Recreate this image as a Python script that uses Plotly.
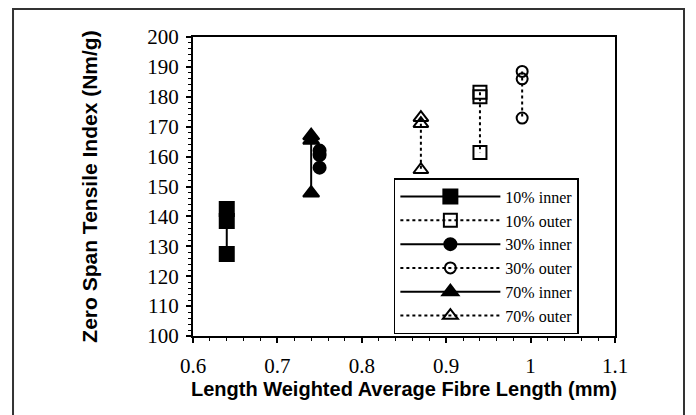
import plotly.graph_objects as go

# Data
x_10_inner = [0.64, 0.64, 0.64]
y_10_inner = [142.5, 138.5, 127.4]
x_10_outer = [0.94, 0.94, 0.94]
y_10_outer = [181.5, 180.0, 161.4]
x_30_inner = [0.75, 0.75, 0.75]
y_30_inner = [162.0, 160.5, 156.3]
x_30_outer = [0.99, 0.99, 0.99]
y_30_outer = [188.5, 186.0, 172.9]
x_70_inner = [0.74, 0.74, 0.74]
y_70_inner = [167.0, 165.5, 147.8]
x_70_outer = [0.87, 0.87, 0.87]
y_70_outer = [173.0, 171.0, 155.6]

x_ticks = [0.6, 0.7, 0.8, 0.9, 1.0, 1.1]
y_ticks = [100, 110, 120, 130, 140, 150, 160, 170, 180, 190, 200]

series = [
    ("10% inner", x_10_inner, y_10_inner, "square", "solid", 14),
    ("10% outer", x_10_outer, y_10_outer, "square-open", "dot", 13),
    ("30% inner", x_30_inner, y_30_inner, "circle", "solid", 12),
    ("30% outer", x_30_outer, y_30_outer, "circle-open", "dot", 11),
    ("70% inner", x_70_inner, y_70_inner, "triangle-up", "solid", 14),
    ("70% outer", x_70_outer, y_70_outer, "triangle-up-open", "dot", 13),
]

fig = go.Figure()
for name, xs, ys, sym, dash, size in series:
    fig.add_trace(go.Scatter(
        x=xs, y=ys, name=name, mode="lines+markers",
        line=dict(color="black", width=2, dash=dash),
        marker=dict(symbol=sym, size=size, color="black",
                    line=dict(color="black", width=2)),
    ))

serif = "'Liberation Serif', 'Times New Roman', serif"
sans = "'Liberation Sans', Arial, sans-serif"

fig.update_layout(
    width=696, height=415,
    margin=dict(l=193, r=81, t=37, b=79),
    paper_bgcolor="white", plot_bgcolor="white",
    font=dict(family=serif, size=21, color="black"),
    showlegend=True,
    legend=dict(
        x=0.476, y=0.528, xanchor="left", yanchor="top",
        bgcolor="white", bordercolor="black", borderwidth=1.5,
        font=dict(family=serif, size=16, color="black"),
        itemwidth=100, tracegroupgap=0,
    ),
)
fig.update_xaxes(
    range=[0.6, 1.1], tickmode="array", tickvals=x_ticks,
    tickfont=dict(family=serif, size=21, color="black"),
    showgrid=False, zeroline=False,
    showline=True, linecolor="black", linewidth=2, mirror=True,
    ticks="outside", ticklen=5, tickwidth=1.5, tickcolor="black",
    minor=dict(dtick=0.02, ticks="outside", ticklen=3, tickwidth=1, tickcolor="black"),
    ticklabelstandoff=5,
    title=dict(text="<b>Length Weighted Average Fibre Length (mm)</b>",
               font=dict(family=sans, size=20, color="black"), standoff=0),
)
fig.update_yaxes(
    range=[100, 200], tickmode="array", tickvals=y_ticks,
    tickfont=dict(family=serif, size=21, color="black"),
    showgrid=False, zeroline=False,
    showline=True, linecolor="black", linewidth=2, mirror=True,
    ticks="outside", ticklen=5, tickwidth=1.5, tickcolor="black",
    minor=dict(dtick=2, ticks="outside", ticklen=3, tickwidth=1, tickcolor="black"),
    ticklabelstandoff=3,
    title=dict(text="<b>Zero Span Tensile Index (Nm/g)</b>",
               font=dict(family=sans, size=21, color="black"), standoff=44),
)
fig.add_shape(type="rect", xref="paper", yref="paper",
              x0=-0.4265, x1=1.1635, y0=-0.3, y1=1.0936,
              line=dict(color="#333333", width=2), fillcolor="rgba(0,0,0,0)",
              layer="below")

fig.write_html("out.html")
